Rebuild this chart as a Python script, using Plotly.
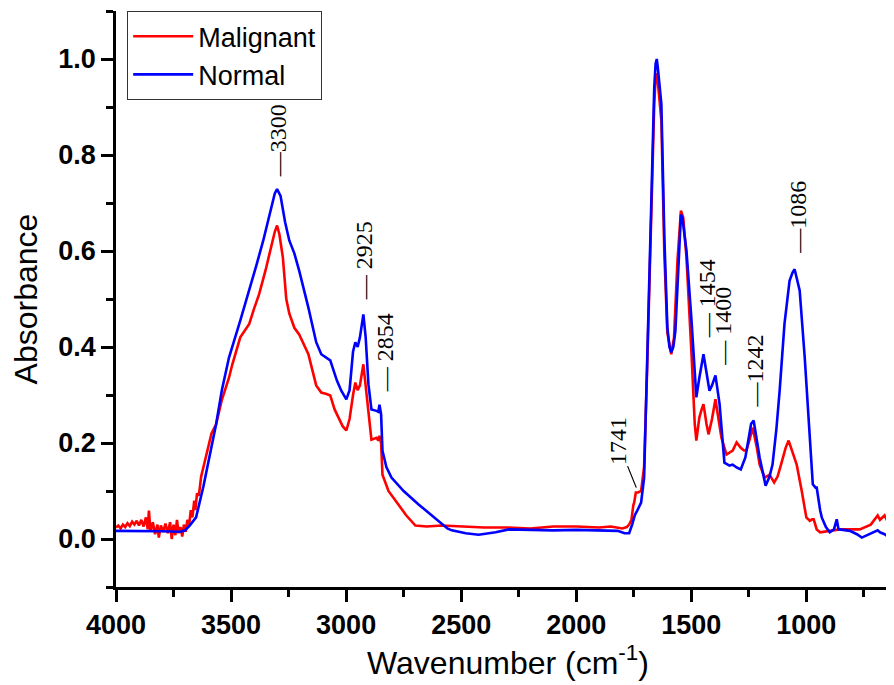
import plotly.graph_objects as go

# Normal (blue)
normal_wn = [4000, 3900, 3800, 3720, 3700, 3680, 3652, 3620, 3590, 3565, 3540, 3509, 3460, 3421, 3390, 3360,
             3330, 3310, 3300, 3285, 3265, 3247, 3225, 3204, 3164, 3130, 3108, 3085, 3069, 3040, 3021, 2999,
             2985, 2970, 2960, 2950, 2940, 2925, 2915, 2903, 2890, 2868, 2860, 2855, 2848, 2842, 2825, 2803,
             2750, 2685, 2620, 2560, 2541, 2480, 2424, 2350, 2293, 2200, 2100, 2000, 1900, 1820, 1790, 1770,
             1757, 1745, 1735, 1718, 1705, 1692, 1674, 1661, 1655, 1650, 1645, 1630, 1617, 1604, 1595, 1587,
             1578, 1569, 1556, 1545, 1539, 1521, 1499, 1485, 1478, 1465, 1447, 1435, 1421, 1410, 1395, 1377,
             1356, 1334, 1320, 1303, 1285, 1265, 1240, 1229, 1215, 1203, 1177, 1160, 1147, 1130, 1116, 1095,
             1073, 1060, 1051, 1040, 1029, 1007, 985, 972, 960, 955, 940, 933, 915, 898, 880, 868, 860, 855,
             811, 780, 759, 735, 711, 690, 680, 660, 637, 620, 612, 602, 595]
normal_abs = [0.017, 0.017, 0.016, 0.015, 0.018, 0.028, 0.045, 0.11, 0.18, 0.239, 0.31, 0.378, 0.455, 0.518, 0.57, 0.622,
              0.68, 0.72, 0.729, 0.715, 0.66, 0.622, 0.595, 0.559, 0.482, 0.41, 0.385, 0.378, 0.372, 0.33, 0.309, 0.291,
              0.31, 0.39, 0.41, 0.40, 0.42, 0.468, 0.42, 0.322, 0.27, 0.267, 0.265, 0.28, 0.26, 0.184, 0.15, 0.128,
              0.10, 0.072, 0.045, 0.022, 0.018, 0.012, 0.009, 0.014, 0.02, 0.019, 0.018, 0.019, 0.018, 0.017, 0.012, 0.012,
              0.03, 0.05, 0.059, 0.076, 0.128, 0.351, 0.697, 0.941, 0.99, 1.0, 0.98, 0.906, 0.628, 0.441, 0.40, 0.389,
              0.40, 0.434, 0.559, 0.676, 0.67, 0.601, 0.455, 0.33, 0.295, 0.336, 0.385, 0.35, 0.309, 0.32, 0.341, 0.281,
              0.159, 0.153, 0.155, 0.149, 0.145, 0.17, 0.24, 0.247, 0.21, 0.17, 0.111, 0.13, 0.155, 0.23, 0.309, 0.448,
              0.538, 0.555, 0.562, 0.54, 0.518, 0.378, 0.205, 0.114, 0.107, 0.107, 0.06, 0.045, 0.025, 0.014, 0.02, 0.041, 0.02, 0.02,
              0.017, 0.01, 0.003, 0.008, 0.014, 0.018, 0.014, 0.01, 0.003, 0.015, 0.035, 0.049, 0.02]

# Malignant (red)
malig_wn = [4000, 3990, 3980, 3970, 3960, 3950, 3940, 3930, 3920, 3910, 3900, 3890, 3880, 3870, 3862, 3857,
            3850, 3840, 3830, 3820, 3814, 3805, 3795, 3785, 3775, 3765, 3758, 3750, 3742, 3735, 3728, 3720,
            3712, 3705, 3697, 3690, 3682, 3675, 3668, 3660, 3655, 3648, 3640, 3630, 3620, 3600, 3585, 3565,
            3540, 3509, 3495, 3460, 3421, 3400, 3378, 3350, 3330, 3310, 3300, 3290, 3275, 3260, 3247, 3225,
            3204, 3180, 3164, 3130, 3108, 3085, 3069, 3050, 3034, 3015, 2999, 2985, 2970, 2960, 2950, 2940,
            2925, 2915, 2903, 2890, 2868, 2860, 2855, 2848, 2842, 2816, 2773, 2740, 2699, 2650, 2585, 2500,
            2400, 2300, 2200, 2100, 2000, 1900, 1850, 1800, 1780, 1770, 1760, 1752, 1748, 1741, 1731, 1718,
            1705, 1692, 1674, 1661, 1655, 1650, 1645, 1630, 1617, 1604, 1587, 1575, 1560, 1545, 1535, 1521,
            1499, 1485, 1478, 1465, 1455, 1447, 1434, 1425, 1410, 1395, 1385, 1369, 1347, 1330, 1320, 1303,
            1285, 1270, 1260, 1245, 1233, 1215, 1203, 1181, 1160, 1140, 1125, 1110, 1090, 1077, 1060, 1042,
            1020, 1000, 985, 975, 968, 955, 940, 898, 855, 811, 768, 720, 690, 680, 660, 640, 615, 595]
malig_abs = [0.024, 0.028, 0.022, 0.03, 0.025, 0.033, 0.027, 0.036, 0.03, 0.038, 0.028, 0.04, 0.026, 0.045, 0.02, 0.059,
             0.015, 0.035, 0.01, 0.03, 0.003, 0.028, 0.015, 0.032, 0.012, 0.035, 0.0, 0.03, 0.008, 0.04, 0.012, 0.025,
             0.005, 0.03, 0.015, 0.04, 0.03, 0.06, 0.045, 0.08, 0.06, 0.095, 0.09, 0.13, 0.15, 0.19, 0.22, 0.239,
             0.29, 0.336, 0.363, 0.42, 0.448, 0.48, 0.51, 0.56, 0.60, 0.64, 0.653, 0.635, 0.587, 0.50, 0.47, 0.44,
             0.426, 0.40, 0.385, 0.32, 0.305, 0.302, 0.299, 0.27, 0.253, 0.235, 0.226, 0.25, 0.30, 0.326, 0.31, 0.32,
             0.364, 0.32, 0.259, 0.207, 0.211, 0.205, 0.215, 0.20, 0.134, 0.10, 0.072, 0.05, 0.028, 0.026, 0.028, 0.026,
             0.024, 0.024, 0.022, 0.026, 0.026, 0.024, 0.026, 0.022, 0.025, 0.03, 0.04, 0.07, 0.076, 0.097, 0.097, 0.1,
             0.15, 0.35, 0.68, 0.906, 0.96, 0.97, 0.95, 0.872, 0.593, 0.43, 0.385, 0.42, 0.58, 0.684, 0.67, 0.587,
             0.385, 0.24, 0.205, 0.253, 0.27, 0.281, 0.24, 0.218, 0.25, 0.291, 0.26, 0.211, 0.176, 0.18, 0.184, 0.201,
             0.19, 0.184, 0.185, 0.21, 0.232, 0.19, 0.155, 0.128, 0.134, 0.118, 0.13, 0.155, 0.19, 0.205, 0.18, 0.155,
             0.1, 0.045, 0.038, 0.041, 0.041, 0.02, 0.014, 0.017, 0.02, 0.02, 0.02, 0.03, 0.049, 0.04, 0.049, 0.03, 0.024, 0.02]

# Peak labels: (text, x, y-bottom)
peak_text = ["—3300", "— 2925", "— 2854", "— 1454", "— 1400", "—1242", "—1086"]
peak_x = [3295, 2925, 2830, 1434, 1360, 1225, 1037]
peak_y = [0.749, 0.493, 0.301, 0.414, 0.357, 0.27, 0.591]

fig = go.Figure()
fig.add_trace(go.Scatter(x=malig_wn, y=malig_abs, mode="lines", name="Malignant",
                         line=dict(color="#ff0000", width=2.6)))
fig.add_trace(go.Scatter(x=normal_wn, y=normal_abs, mode="lines", name="Normal",
                         line=dict(color="#0000ff", width=2.6)))

serif = "Liberation Serif, Times New Roman, serif"
for t, x, y in zip(peak_text, peak_x, peak_y):
    fig.add_annotation(x=x, y=y, text=t, showarrow=False, textangle=-90,
                       xanchor="center", yanchor="bottom",
                       font=dict(family=serif, size=24, color="black"))

fig.add_annotation(x=1739, y=0.107, text="1741", textangle=-90, showarrow=True,
                   arrowhead=0, arrowwidth=1.2, arrowcolor="black", ax=-19, ay=-47,
                   font=dict(family=serif, size=24, color="black"))

axis_common = dict(showline=True, linecolor="black", linewidth=2.5, ticks="outside",
                   ticklen=12, tickwidth=2.5, tickcolor="black", showgrid=False, zeroline=False,
                   tickfont=dict(family="Liberation Sans, Arial", size=27, color="black", weight="bold"))

fig.update_layout(
    width=894, height=685,
    margin=dict(l=108, r=2, t=3, b=106),
    plot_bgcolor="white", paper_bgcolor="white",
    font=dict(family="Liberation Sans, Arial", color="black"),
    xaxis=dict(range=[4000, 593], dtick=500, tick0=0,
               minor=dict(dtick=250, ticklen=7, tickwidth=2.5, tickcolor="black", ticks="outside"),
               title=dict(text="Wavenumber (cm<sup>-1</sup>)", font=dict(size=32), standoff=12),
               **axis_common),
    yaxis=dict(range=[-0.1, 1.1], dtick=0.2, tick0=0, tickformat=".1f",
               minor=dict(dtick=0.1, ticklen=7, tickwidth=2.5, tickcolor="black", ticks="outside"),
               title=dict(text="Absorbance", font=dict(size=32), standoff=14),
               **axis_common),
    legend=dict(x=0.014, y=1.0, xanchor="left", yanchor="top",
                bgcolor="white", bordercolor="#333333", borderwidth=1.2,
                font=dict(family="Liberation Sans, Arial", size=27, color="black"),
                itemwidth=60, tracegroupgap=0),
    showlegend=True,
)

fig.write_html("out.html")
